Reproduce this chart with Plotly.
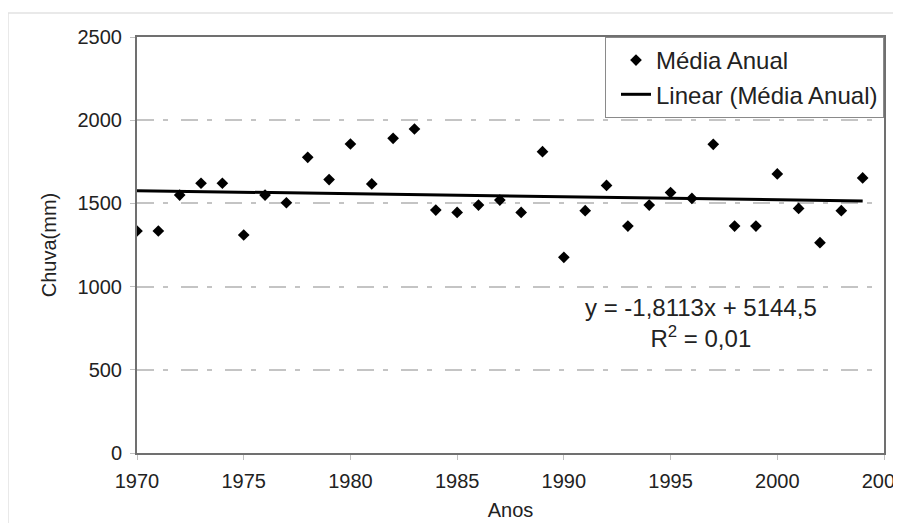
import plotly.graph_objects as go

years = list(range(1970, 2005))
media_anual = [1334, 1334, 1550, 1621, 1621, 1310, 1550, 1504, 1777, 1643,
               1857, 1617, 1891, 1947, 1460, 1446, 1490, 1520, 1446, 1811,
               1176, 1456, 1608, 1364, 1490, 1565, 1530, 1855, 1364, 1364,
               1677, 1470, 1264, 1456, 1653]

trend_slope = -1.8113
trend_intercept = 5144.5
trend_years = [1970, 2004]
trend_values = [trend_slope * y + trend_intercept for y in trend_years]

eq_text = "y = -1,8113x + 5144,5<br>R<sup>2</sup> = 0,01"

FONT = "Liberation Sans, Arial, sans-serif"
GRID_DASH = "17px,9px,5px,13px"
FRAME = dict(color="#e2e2e2", width=1.5)

fig = go.Figure()
fig.add_trace(go.Scatter(
    x=years, y=media_anual, mode="markers", name="Média Anual",
    marker=dict(symbol="diamond", size=9, color="black"),
))
fig.add_trace(go.Scatter(
    x=trend_years, y=trend_values, mode="lines", name="Linear (Média Anual)",
    line=dict(color="black", width=3),
))

fig.update_layout(
    width=893, height=515,
    margin=dict(l=129, r=17, t=29, b=70),
    paper_bgcolor="white", plot_bgcolor="white",
    font=dict(family=FONT, size=20, color="#222222"),
    showlegend=True,
    legend=dict(
        x=1, y=1, xanchor="right", yanchor="top",
        bgcolor="white", bordercolor="#8a8a8a", borderwidth=1,
        font=dict(size=24, color="#222222"),
        indentation=10,
    ),
    xaxis=dict(
        range=[1970, 2005], dtick=5, tick0=1970,
        showline=True, linecolor="#707070", linewidth=2, mirror=True,
        ticks="outside", ticklen=5, tickcolor="#c0c0c0",
        showgrid=False, zeroline=False, automargin=False,
        ticklabelstandoff=4, ticklabeloverflow="allow",
        title=dict(text="Anos", standoff=12, font=dict(size=20)),
    ),
    yaxis=dict(
        range=[0, 2500], dtick=500,
        showline=True, linecolor="#707070", linewidth=2, mirror=True,
        ticks="outside", ticklen=5, tickcolor="#c0c0c0",
        showgrid=True, gridcolor="#c4c4c4", gridwidth=1.5, griddash=GRID_DASH,
        zeroline=False, automargin=False,
        ticklabelstandoff=4,
        title=dict(text="Chuva(mm)", standoff=16, font=dict(size=20)),
    ),
    annotations=[dict(
        text=eq_text, xref="paper", yref="paper", x=0.755, y=0.3125,
        xanchor="center", yanchor="middle", showarrow=False, align="center",
        font=dict(size=24, color="#222222"),
    )],
    shapes=[
        dict(type="line", xref="paper", yref="paper",
             x0=-0.1727, x1=1.3, y0=1.0577, y1=1.0577, line=FRAME, layer="below"),
        dict(type="line", xref="paper", yref="paper",
             x0=-0.1727, x1=-0.1727, y0=-0.5, y1=1.0577, line=FRAME, layer="below"),
    ],
)

fig.write_html("out.html")
